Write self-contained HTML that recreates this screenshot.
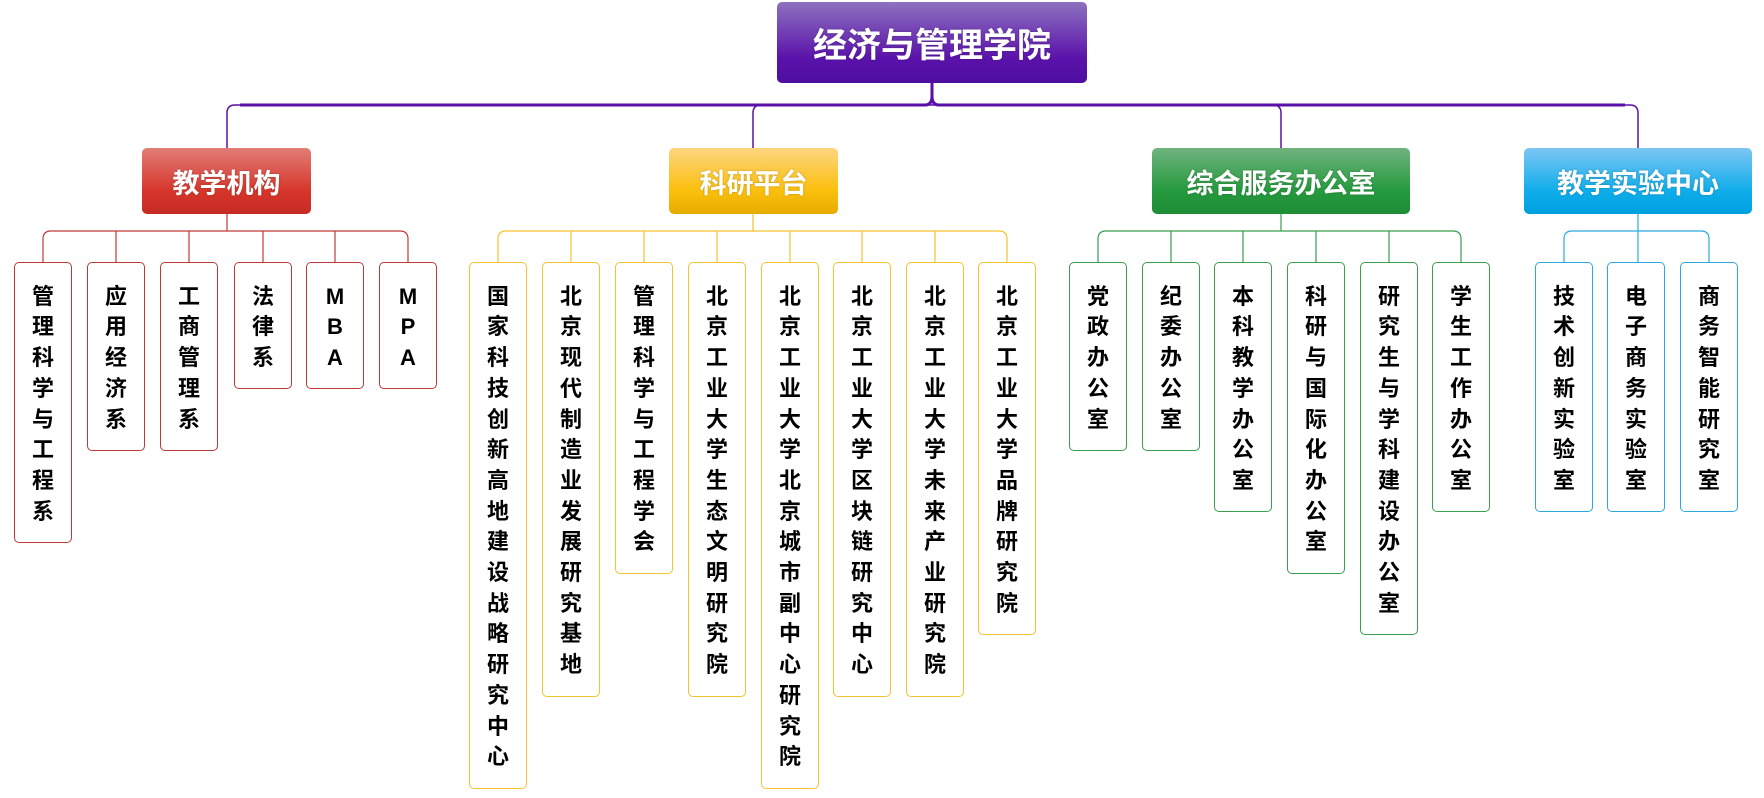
<!DOCTYPE html>
<html><head><meta charset="utf-8"><style>
body{margin:0;width:1764px;height:798px;background:#fff;position:relative;overflow:hidden;font-family:"Liberation Sans","Noto Sans CJK SC",sans-serif}
.h{position:absolute;border-radius:5px;color:#fff;font-weight:bold;display:flex;align-items:center;justify-content:center;text-shadow:0 0 2px rgba(0,0,0,.25)}
.c{position:absolute;top:262px;width:56px;border:1px solid;border-radius:5px;background:#fff;text-align:center;font-weight:bold;font-size:22px;line-height:30.7px;padding:18.7px 0 14.7px;color:#000;box-sizing:content-box}
.r{border-color:#c0393a}.y{border-color:#f5c230}.g{border-color:#3a9d4f}.b{border-color:#2aa9e0}
svg{position:absolute;left:0;top:0}
</style></head><body>
<svg width="1764" height="798" fill="none">
<g stroke="#5a10a8" stroke-width="1.5">
<path d="M227 148 V113 Q227 105 235 105 H1630 Q1638 105 1638 113 V148"/>
<path d="M753 148 V113 Q753 105 761 105"/>
<path d="M1281 148 V113 Q1281 105 1273 105"/>
</g>
<path d="M240 105 H925 Q932 105 932 96 V83 M932 83 V96 Q932 105 939 105 H1625" stroke="#5a10a8" stroke-width="3"/>
<g stroke="#c0393a" stroke-width="1.2"><path d="M227 214V231 M43 262V239Q43 231 51 231H400Q408 231 408 239V262 M116 231V262 M189 231V262 M263 231V262 M335 231V262"/></g>
<g stroke="#f5c230" stroke-width="1.2"><path d="M753 214V231 M498 262V239Q498 231 506 231H999Q1007 231 1007 239V262 M571 231V262 M644 231V262 M717 231V262 M790 231V262 M862 231V262 M935 231V262"/></g>
<g stroke="#3a9d4f" stroke-width="1.2"><path d="M1281 214V231 M1098 262V239Q1098 231 1106 231H1453Q1461 231 1461 239V262 M1171 231V262 M1243 231V262 M1316 231V262 M1389 231V262"/></g>
<g stroke="#2aa9e0" stroke-width="1.2"><path d="M1638 214V262 M1564 262V239Q1564 231 1572 231H1701Q1709 231 1709 239V262"/></g>
</svg>
<div class="h" style="left:777px;top:2px;width:310px;height:81px;background:linear-gradient(#8d72bf,#5a12aa 70%,#4e0ea0);font-size:34px">经济与管理学院</div>
<div class="h" style="left:142px;top:148px;width:169px;height:66px;background:linear-gradient(#e27d77,#d6362b 65%,#c52b24);font-size:27px">教学机构</div>
<div class="h" style="left:669px;top:148px;width:169px;height:66px;background:linear-gradient(#fdd57f,#fbbf0c 65%,#e6ab00);font-size:27px">科研平台</div>
<div class="h" style="left:1152px;top:148px;width:258px;height:66px;background:linear-gradient(#70b37e,#259a3e 65%,#1f8d36);font-size:27px">综合服务办公室</div>
<div class="h" style="left:1524px;top:148px;width:228px;height:66px;background:linear-gradient(#7cc6f4,#0fadea 65%,#00a0df);font-size:27px">教学实验中心</div>

<div class="c r" style="left:14px">管<br>理<br>科<br>学<br>与<br>工<br>程<br>系</div>
<div class="c r" style="left:87px">应<br>用<br>经<br>济<br>系</div>
<div class="c r" style="left:160px">工<br>商<br>管<br>理<br>系</div>
<div class="c r" style="left:234px">法<br>律<br>系</div>
<div class="c r" style="left:306px">M<br>B<br>A</div>
<div class="c r" style="left:379px">M<br>P<br>A</div>

<div class="c y" style="left:469px">国<br>家<br>科<br>技<br>创<br>新<br>高<br>地<br>建<br>设<br>战<br>略<br>研<br>究<br>中<br>心</div>
<div class="c y" style="left:542px">北<br>京<br>现<br>代<br>制<br>造<br>业<br>发<br>展<br>研<br>究<br>基<br>地</div>
<div class="c y" style="left:615px">管<br>理<br>科<br>学<br>与<br>工<br>程<br>学<br>会</div>
<div class="c y" style="left:688px">北<br>京<br>工<br>业<br>大<br>学<br>生<br>态<br>文<br>明<br>研<br>究<br>院</div>
<div class="c y" style="left:761px">北<br>京<br>工<br>业<br>大<br>学<br>北<br>京<br>城<br>市<br>副<br>中<br>心<br>研<br>究<br>院</div>
<div class="c y" style="left:833px">北<br>京<br>工<br>业<br>大<br>学<br>区<br>块<br>链<br>研<br>究<br>中<br>心</div>
<div class="c y" style="left:906px">北<br>京<br>工<br>业<br>大<br>学<br>未<br>来<br>产<br>业<br>研<br>究<br>院</div>
<div class="c y" style="left:978px">北<br>京<br>工<br>业<br>大<br>学<br>品<br>牌<br>研<br>究<br>院</div>

<div class="c g" style="left:1069px">党<br>政<br>办<br>公<br>室</div>
<div class="c g" style="left:1142px">纪<br>委<br>办<br>公<br>室</div>
<div class="c g" style="left:1214px">本<br>科<br>教<br>学<br>办<br>公<br>室</div>
<div class="c g" style="left:1287px">科<br>研<br>与<br>国<br>际<br>化<br>办<br>公<br>室</div>
<div class="c g" style="left:1360px">研<br>究<br>生<br>与<br>学<br>科<br>建<br>设<br>办<br>公<br>室</div>
<div class="c g" style="left:1432px">学<br>生<br>工<br>作<br>办<br>公<br>室</div>

<div class="c b" style="left:1535px">技<br>术<br>创<br>新<br>实<br>验<br>室</div>
<div class="c b" style="left:1607px">电<br>子<br>商<br>务<br>实<br>验<br>室</div>
<div class="c b" style="left:1680px">商<br>务<br>智<br>能<br>研<br>究<br>室</div>
</body></html>
